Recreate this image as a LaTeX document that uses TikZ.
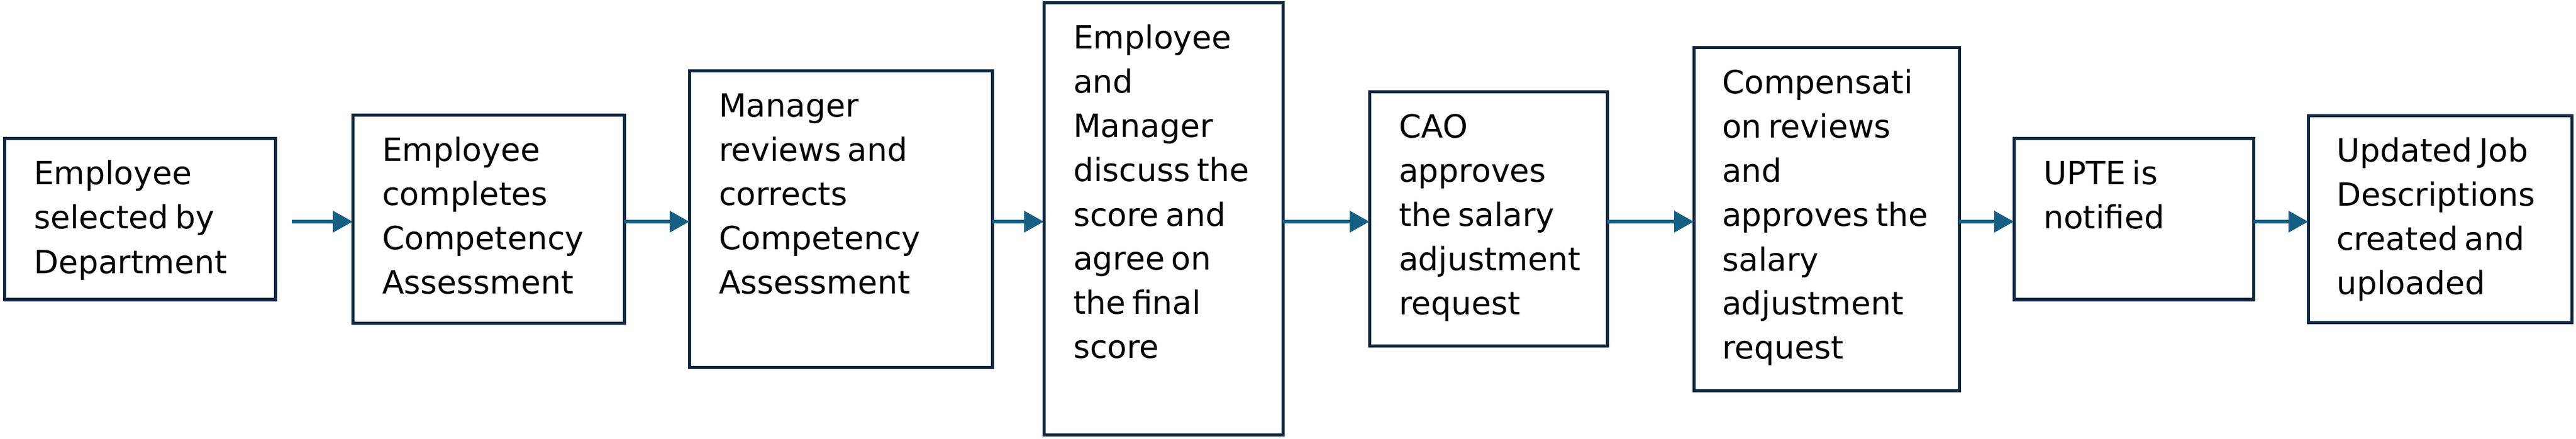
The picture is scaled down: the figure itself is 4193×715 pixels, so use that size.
\documentclass[tikz,border=0pt]{standalone}
\usepackage{fontspec}
\newfontfamily\boxfont{DejaVu Sans}[WordSpace=0.65]
\usetikzlibrary{arrows.meta}
\definecolor{boxline}{HTML}{0E2841}
\definecolor{arrowcol}{HTML}{156082}
\begin{document}
\begin{tikzpicture}[x=0.25pt,y=-0.25pt,
  procbox/.style={draw=boxline, line width=1.25pt, fill=white, inner sep=0pt, outer sep=0pt},
  txt/.style={anchor=north west, inner sep=0pt, outer sep=0pt, align=left, text=black,
    font=\boxfont\fontsize{13pt}{18pt}\selectfont},
  flow/.style={draw=arrowcol, line width=1.5pt, -{Triangle[length=8pt,width=8.5pt]}}
]
\fill[white] (0,0) rectangle (4193,715);
\useasboundingbox (0,0) rectangle (4193,715);
\newcommand{\fs}{\rule{0pt}{12.5pt}}
% boxes
\node[procbox, minimum width=441*0.25pt, minimum height=262*0.25pt] (b1) at (227.5,357) {};
\node[procbox, minimum width=442*0.25pt, minimum height=338*0.25pt] (b2) at (795,357) {};
\node[procbox, minimum width=493*0.25pt, minimum height=482*0.25pt] (b3) at (1368.5,357) {};
\node[procbox, minimum width=389*0.25pt, minimum height=703*0.25pt] (b4) at (1893.5,356.5) {};
\node[procbox, minimum width=387*0.25pt, minimum height=413*0.25pt] (b5) at (2422.5,356.5) {};
\node[procbox, minimum width=432*0.25pt, minimum height=558*0.25pt] (b6) at (2973,357) {};
\node[procbox, minimum width=390*0.25pt, minimum height=262*0.25pt] (b7) at (3473,357) {};
\node[procbox, minimum width=429*0.25pt, minimum height=336*0.25pt] (b8) at (3971.5,357) {};
% texts
\node[txt] (t1) at ([shift={(48,25)}]b1.north west) {\fs Employee\\selected by\\Department};
\node[txt] (t2) at ([shift={(48,25)}]b2.north west) {\fs Employee\\completes\\Competency\\Assessment};
\node[txt] (t3) at ([shift={(48,25)}]b3.north west) {\fs Manager\\reviews and\\corrects\\Competency\\Assessment};
\node[txt] (t4) at ([shift={(48,25)}]b4.north west) {\fs Employee\\and\\Manager\\discuss the\\score and\\agree on\\the final\\score};
\node[txt] (t5) at ([shift={(48,25)}]b5.north west) {\fs CAO\\approves\\the salary\\adjustment\\request};
\node[txt] (t6) at ([shift={(46,25)}]b6.north west) {\fs Compensati\\on reviews\\and\\approves the\\salary\\adjustment\\request};
\node[txt] (t7) at ([shift={(48,25)}]b7.north west) {\fs UPTE is\\notified};
\node[txt] (t8) at ([shift={(46,25)}]b8.north west) {\fs Updated Job\\Descriptions\\created and\\uploaded};
% connectors
\coordinate (row) at (0,361);
\coordinate (s1) at (475,361);
\draw[flow] (s1) -- (b2.west |- row);
\draw[flow] (b2.east |- row) -- (b3.west |- row);
\draw[flow] (b3.east |- row) -- (b4.west |- row);
\draw[flow] (b4.east |- row) -- (b5.west |- row);
\draw[flow] (b5.east |- row) -- (b6.west |- row);
\draw[flow] (b6.east |- row) -- (b7.west |- row);
\draw[flow] (b7.east |- row) -- (b8.west |- row);
\end{tikzpicture}
\end{document}
